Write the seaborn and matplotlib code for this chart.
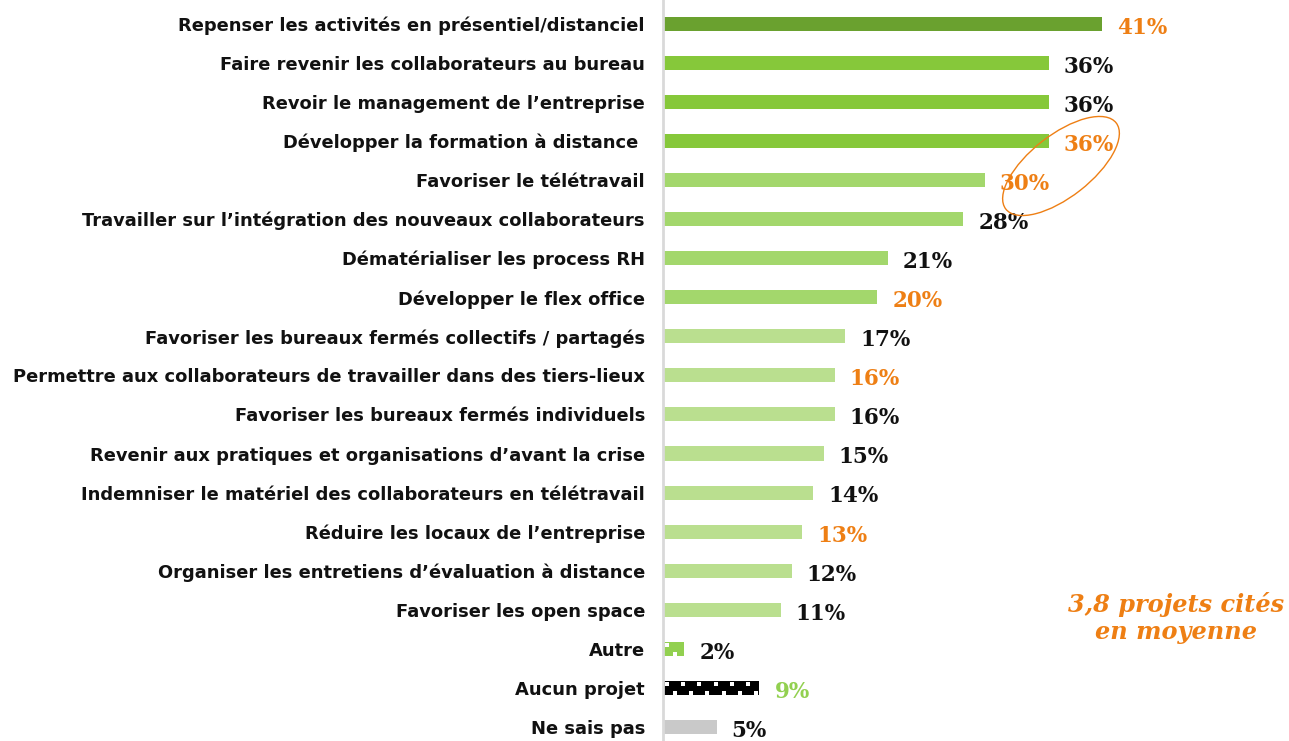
import numpy as np
import pandas as pd
import matplotlib.pyplot as plt
import seaborn as sns
from matplotlib.patches import Ellipse

# Données
categories = [
    "Repenser les activités en présentiel/distanciel",
    "Faire revenir les collaborateurs au bureau",
    "Revoir le management de l’entreprise",
    "Développer la formation à distance ",
    "Favoriser le télétravail",
    "Travailler sur l’intégration des nouveaux collaborateurs",
    "Dématérialiser les process RH",
    "Développer le flex office",
    "Favoriser les bureaux fermés collectifs / partagés",
    "Permettre aux collaborateurs de travailler dans des tiers-lieux",
    "Favoriser les bureaux fermés individuels",
    "Revenir aux pratiques et organisations d’avant la crise",
    "Indemniser le matériel des collaborateurs en télétravail",
    "Réduire les locaux de l’entreprise",
    "Organiser les entretiens d’évaluation à distance",
    "Favoriser les open space",
    "Autre",
    "Aucun projet",
    "Ne sais pas",
]
values = [41, 36, 36, 36, 30, 28, 21, 20, 17, 16, 16, 15, 14, 13, 12, 11, 2, 9, 5]
bar_colors = (["#6aa12f"] + ["#86c83a"] * 3 + ["#a3d76c"] * 4 + ["#badf8f"] * 8
              + ["#92d050", "#000000", "#c9c9c9"])
label_colors = ["o", "k", "k", "o", "o", "k", "k", "o", "k", "o",
                "k", "k", "k", "o", "k", "k", "k", "g", "k"]
dotted = ["Autre", "Aucun projet"]

ORANGE = "#ee7f14"
color_map = {"o": ORANGE, "k": "#111111", "g": "#92d050"}

df = pd.DataFrame({"projet": categories, "pct": values})

fig = plt.figure(figsize=(12.89, 7.41), dpi=100)
ax = fig.add_axes([663 / 1289, 0, 626 / 1289, 1])

sns.barplot(data=df, y="projet", x="pct", hue="projet", palette=bar_colors,
            legend=False, orient="h", width=0.36, ax=ax, saturation=1)

for patch, cat in zip(ax.patches, categories):
    patch.set_linewidth(0)
    if cat in dotted:
        # motif pointillé blanc en quinconce, calé sur la barre
        x0, x1 = patch.get_x(), patch.get_x() + patch.get_width()
        yc = patch.get_y() + patch.get_height() / 2
        top = np.arange(x0 + 0.4, x1 - 0.1, 1.5)
        bot = np.arange(x0 + 1.15, x1 - 0.1, 1.5)
        ax.scatter(top, np.full(len(top), yc - 0.1), s=5, color="white",
                   marker="s", linewidths=0, zorder=5)
        ax.scatter(bot, np.full(len(bot), yc + 0.12), s=5, color="white",
                   marker="s", linewidths=0, zorder=5)

ax.set_xlim(0, 58.4)
ax.set_ylim(18.36, -0.61)
ax.set_xlabel("")
ax.set_ylabel("")
ax.set_xticks([])
ax.tick_params(axis="y", length=0, pad=13)
ax.set_yticks(range(len(categories)))
ax.set_yticklabels(categories, fontsize=12.9, fontweight="bold",
                   family="DejaVu Sans", color="#111111")
for s in ["top", "right", "bottom"]:
    ax.spines[s].set_visible(False)
ax.spines["left"].set_color("#d9d9d9")
ax.spines["left"].set_linewidth(2)

# étiquettes de valeurs
for i, (v, c) in enumerate(zip(values, label_colors)):
    ax.text(v + 1.4, i + 0.1, f"{v}%", va="center", ha="left",
            fontsize=15.5, fontweight="bold", family="DejaVu Serif",
            color=color_map[c])

# calque pour annotations en pixels
over = fig.add_axes([0, 0, 1, 1])
over.set_xlim(0, 1289)
over.set_ylim(741, 0)
over.axis("off")
over.patch.set_alpha(0)
over.add_patch(Ellipse((1061, 166), 140, 62, angle=-38, fill=False,
                       edgecolor=ORANGE, linewidth=1))
over.text(1176, 618, "3,8 projets cités\nen moyenne", ha="center", va="center",
          fontsize=17.3, fontweight="bold", style="italic", family="DejaVu Serif",
          color=ORANGE, linespacing=1.2)

fig.savefig("out.png", dpi=100)
